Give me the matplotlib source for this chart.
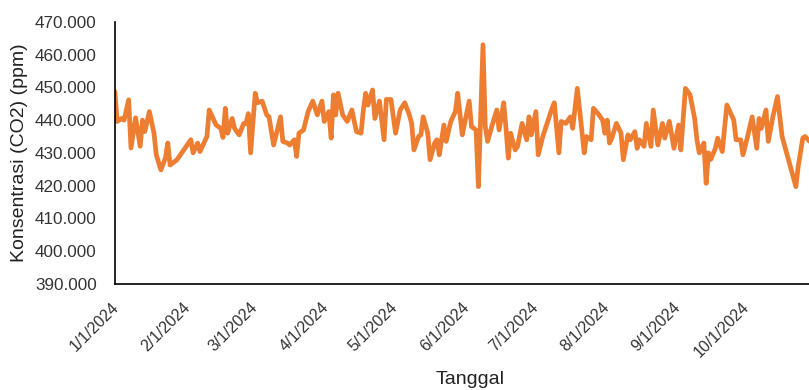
import numpy as np
import pandas as pd
import matplotlib
matplotlib.use("Agg")
import matplotlib.pyplot as plt
import matplotlib.transforms as mtransforms
from matplotlib.ticker import FuncFormatter

# Data: day offset from 1 Jan 2024 and CO2 concentration (ppm)
day_offset = [
    0, 1, 3, 4, 6, 7, 9, 11, 12, 13, 15, 17, 18, 20, 22, 23, 24, 27, 33, 34,
    36, 37, 40, 41, 44, 46, 47, 48, 49, 51, 52, 54, 56, 57, 58, 59, 61, 62, 64, 66,
    67, 69, 72, 73, 75, 76, 78, 79, 80, 82, 84, 86, 88, 90, 91, 93, 94, 95, 96, 97,
    99, 101, 103, 105, 107, 108, 109, 110, 112, 113, 115, 116, 117, 118, 120, 122, 124, 126, 128, 129,
    130, 132, 133, 134, 136, 137, 139, 140, 141, 143, 144, 146, 148, 149, 151, 152, 154, 155, 157, 158,
    160, 161, 162, 164, 166, 167, 169, 170, 171, 172, 174, 175, 177, 179, 180, 181, 183, 184, 186, 190,
    191, 193, 194, 196, 198, 199, 201, 204, 205, 207, 208, 210, 212, 213, 214, 215, 216, 218, 220, 221,
    223, 224, 226, 227, 228, 230, 231, 233, 234, 236, 238, 239, 241, 243, 245, 246, 248, 250, 252, 253,
    254, 256, 257, 258, 259, 261, 262, 264, 266, 267, 269, 270, 272, 273, 275, 277, 279, 280, 281, 283,
    284, 286, 288, 290, 293, 296, 297, 299, 300, 302,
]
co2_ppm = [
    448.7, 439.6, 440.5, 440.0, 446.2, 431.5, 440.7, 432.0, 440.0, 436.5, 442.6, 436.0, 429.4, 424.8, 428.5, 433.0, 426.3, 427.9, 434.0, 430.0,
    433.0, 430.4, 435.0, 443.1, 438.5, 437.5, 434.7, 443.6, 436.0, 440.5, 437.5, 435.5, 439.0, 439.0, 442.0, 430.0, 448.2, 445.3, 445.8, 441.6,
    441.0, 432.4, 441.0, 433.5, 433.0, 432.4, 434.0, 428.9, 436.0, 437.0, 442.6, 445.8, 441.6, 445.8, 439.6, 442.6, 434.5, 447.7, 441.6, 448.2,
    441.6, 439.6, 443.1, 436.5, 436.0, 443.1, 448.2, 444.6, 449.2, 440.5, 445.8, 440.0, 434.0, 446.3, 446.3, 436.0, 443.1, 445.3, 441.6, 439.0,
    430.9, 435.0, 435.5, 441.0, 436.0, 427.9, 433.0, 434.0, 429.4, 438.5, 433.5, 439.6, 442.6, 448.2, 435.5, 439.0, 445.8, 438.0, 437.0, 419.7,
    463.0, 438.0, 433.5, 438.5, 443.1, 437.0, 445.3, 437.5, 428.4, 436.0, 430.9, 431.9, 439.0, 434.0, 441.0, 435.5, 442.6, 429.4, 435.0, 443.6,
    445.3, 430.0, 439.6, 439.0, 441.0, 437.5, 449.7, 430.0, 435.0, 434.0, 443.6, 442.0, 440.0, 436.0, 440.0, 433.0, 434.5, 439.0, 436.0, 427.9,
    435.5, 434.0, 436.5, 431.4, 434.0, 432.0, 439.0, 432.0, 443.1, 432.4, 439.0, 434.5, 439.6, 431.4, 438.5, 430.9, 449.7, 447.7, 440.5, 434.0,
    430.0, 433.0, 420.7, 430.0, 428.0, 431.4, 434.5, 430.4, 444.6, 443.1, 440.0, 434.0, 434.0, 429.4, 435.0, 441.0, 431.4, 440.5, 437.5, 443.1,
    433.5, 441.0, 447.2, 435.0, 427.3, 419.7, 425.8, 434.5, 435.0, 433.5,
]
tick_dates = ["2024-01-01", "2024-02-01", "2024-03-01", "2024-04-01", "2024-05-01",
              "2024-06-01", "2024-07-01", "2024-08-01", "2024-09-01", "2024-10-01"]
tick_labels = ["1/1/2024", "2/1/2024", "3/1/2024", "4/1/2024", "5/1/2024",
               "6/1/2024", "7/1/2024", "8/1/2024", "9/1/2024", "10/1/2024"]

start = pd.Timestamp("2024-01-01")
dates = start + pd.to_timedelta(day_offset, unit="D")

plt.rcParams["font.family"] = ["Liberation Sans", "DejaVu Sans"]

fig = plt.figure(figsize=(8.09, 3.90), dpi=100)
ax = fig.add_axes([0.142, 0.272, 0.858, 0.672])

ax.plot(dates, co2_ppm, color="#ED7D31", linewidth=3.4,
        solid_joinstyle="round", solid_capstyle="round")

ax.set_ylim(390, 470)
ax.set_yticks(np.arange(390, 471, 10))
ax.yaxis.set_major_formatter(FuncFormatter(lambda v, p: f"{v:.3f}"))
ax.set_xlim(start, start + pd.Timedelta(days=301.7))
ax.set_xticks(pd.to_datetime(tick_dates))
ax.set_xticklabels(tick_labels, rotation=45, ha="right", va="center",
                   rotation_mode="anchor")

ax.tick_params(axis="y", length=0, pad=13, labelsize=12.3, labelcolor="#333333")
ax.tick_params(axis="x", length=0, pad=15, labelsize=11.5, labelcolor="#333333")

# nudge the date labels a little to the right
shift = mtransforms.ScaledTranslation(2 / 100, 0, fig.dpi_scale_trans)
for lbl in ax.get_xticklabels():
    lbl.set_transform(lbl.get_transform() + shift)

for side in ["top", "right"]:
    ax.spines[side].set_visible(False)
for side in ["left", "bottom"]:
    ax.spines[side].set_color("black")
    ax.spines[side].set_linewidth(1.2)

ax.set_ylabel("Konsentrasi (CO2) (ppm)", fontsize=14, color="#222222")
ax.yaxis.set_label_coords(-0.125, 0.5)
fig.text(470 / 809, 1 - 380 / 390, "Tanggal", fontsize=14, color="#222222",
         ha="center", va="center")

fig.savefig("out.png", dpi=100)
